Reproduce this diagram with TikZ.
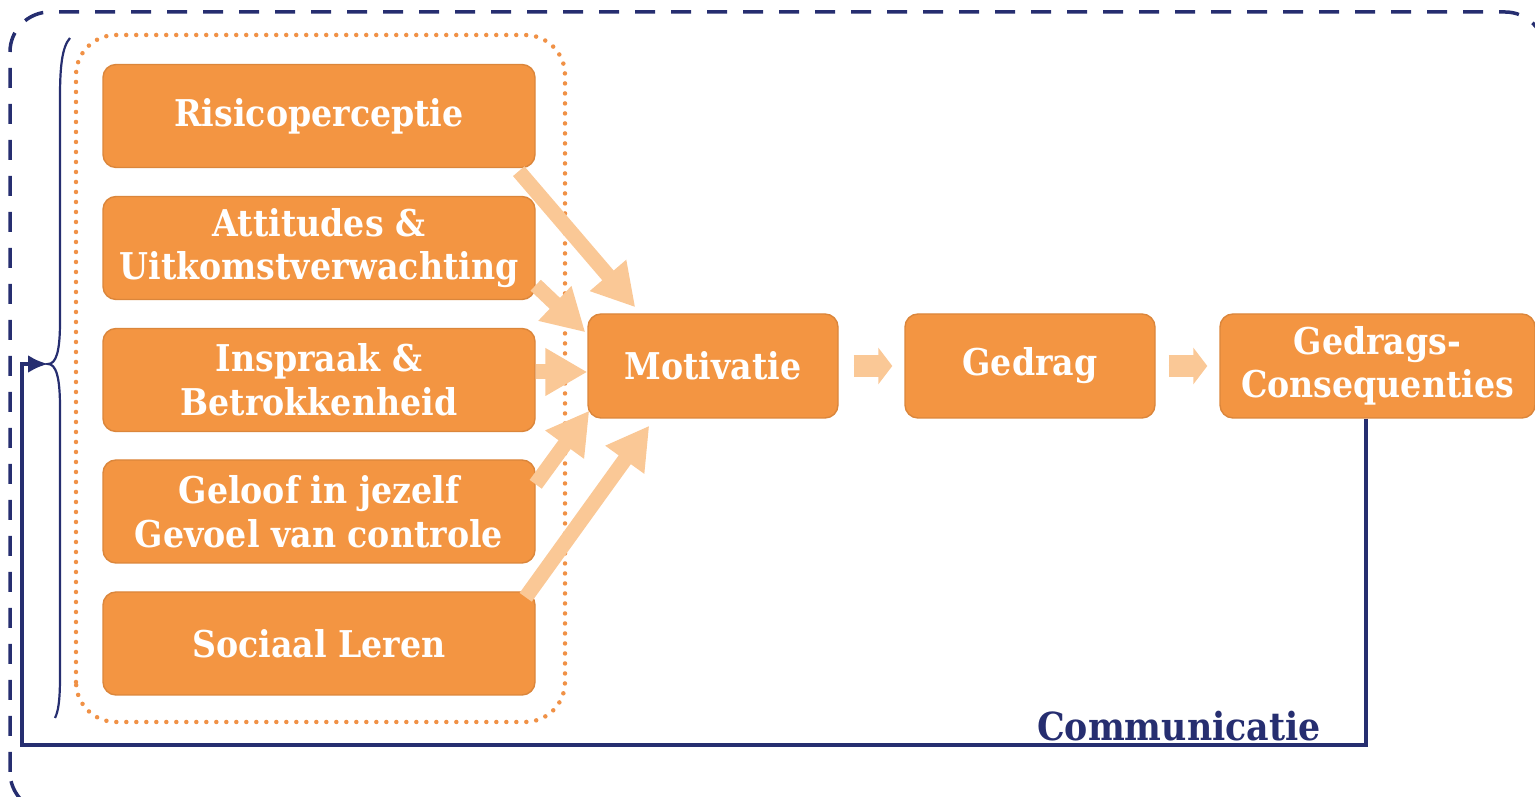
\documentclass[tikz,border=0pt]{standalone}
\usepackage{fontspec}
\setmainfont{DejaVu Serif}[FakeStretch=0.9]
\usepackage{tikz}
\usetikzlibrary{positioning,calc,arrows.meta}

\definecolor{boxorange}{RGB}{243,149,66}
\definecolor{peach}{RGB}{250,200,150}
\definecolor{navy}{RGB}{38,46,112}
\definecolor{dotorange}{RGB}{240,145,70}

\tikzset{
    factor/.style={draw=boxorange!90!black, line width=0.4pt, fill=boxorange, rounded corners=0.13cm,
        text=white, font=\fontsize{10.5}{12.4}\selectfont\bfseries, align=center,
        minimum width=4.32cm, minimum height=1.03cm, inner sep=0pt},
    flow/.style={draw=peach, fill=peach, line width=0.15cm,
        -{Triangle[width=0.45cm, length=0.42cm]}},
    chain/.style={draw=peach, fill=peach, line width=0.22cm,
        -{Triangle[width=0.36cm, length=0.14cm]}},
}

\begin{document}
\begin{tikzpicture}
    \useasboundingbox (0,0) rectangle (15.35,7.97);
    \clip (0,0) rectangle (15.35,7.97);

    % outer dashed frame, runs off the page on the right and below
    \draw[navy, line width=0.035cm, dash pattern=on 0.2cm off 0.16cm, rounded corners=0.4cm]
        (0.1,-0.15) rectangle (15.45,7.85);

    % dotted group round the five factors
    \draw[dotorange, line width=0.045cm, line cap=round, dash pattern=on 0pt off 0.1cm,
        rounded corners=0.4cm] (0.76,0.75) rectangle (5.65,7.62);

    % factors
    \node[factor] (risk) at (3.19,6.81) {Risicoperceptie};
    \node[factor] (att)  at (3.19,5.49) {Attitudes \&\\Uitkomstverwachting};
    \node[factor] (insp) at (3.19,4.17) {Inspraak \&\\Betrokkenheid};
    \node[factor] (self) at (3.19,2.855) {Geloof in jezelf\\Gevoel van controle};
    \node[factor] (soc)  at (3.19,1.535) {Sociaal Leren};

    % chain
    \node[factor, minimum width=2.5cm, minimum height=1.04cm] (motiv) at (7.13,4.31) {Motivatie};
    \node[factor, minimum width=2.5cm, minimum height=1.04cm] (gedrag) at (10.30,4.31) {Gedrag};
    \node[factor, minimum width=3.15cm, minimum height=1.04cm] (cons) at (13.775,4.31) {Gedrags-\\Consequenties};

    % arrows into motivatie
    \draw[flow] ([xshift=-0.17cm,yshift=-0.03cm]risk.south east) -- ([xshift=0.48cm,yshift=0.06cm]motiv.north west);
    \draw[flow] ([yshift=0.15cm]att.south east) -- ([xshift=-0.02cm,yshift=-0.19cm]motiv.north west);
    \draw[flow] ([yshift=0.08cm]insp.east) -- ([yshift=-0.06cm]motiv.west);
    \draw[flow] ([yshift=-0.25cm]self.north east) -- ([xshift=0.02cm,yshift=0.08cm]motiv.south west);
    \draw[flow] ([xshift=-0.1cm,yshift=-0.06cm]soc.north east) -- ([xshift=0.62cm,yshift=-0.07cm]motiv.south west);

    % arrows along the chain
    \draw[chain, shorten <=0.15cm, shorten >=0.12cm] (motiv.east) -- (gedrag.west);
    \draw[chain, shorten <=0.13cm, shorten >=0.12cm] (gedrag.east) -- (cons.west);

    % feedback brace and line
    \coordinate (tip) at (0.48,4.33);
    \draw[navy, line width=0.022cm]
        (0.70,7.59) .. controls (0.62,7.5) and (0.60,7.3) .. (0.60,7.0)
        -- (0.60,4.75) .. controls (0.60,4.45) and (0.56,4.33) .. (tip)
        .. controls (0.56,4.33) and (0.60,4.2) .. (0.60,3.9)
        -- (0.60,1.2) .. controls (0.60,0.95) and (0.58,0.85) .. (0.55,0.79);
    \node[navy, font=\fontsize{11}{13}\selectfont\bfseries] (comm) at (11.79,0.71) {Communicatie};
    \draw[navy, line width=0.04cm, -{Latex[length=0.2cm, width=0.18cm]}]
        ([xshift=-0.12cm]cons.south) |- (0.22,0.52) |- (tip);
\end{tikzpicture}
\end{document}
